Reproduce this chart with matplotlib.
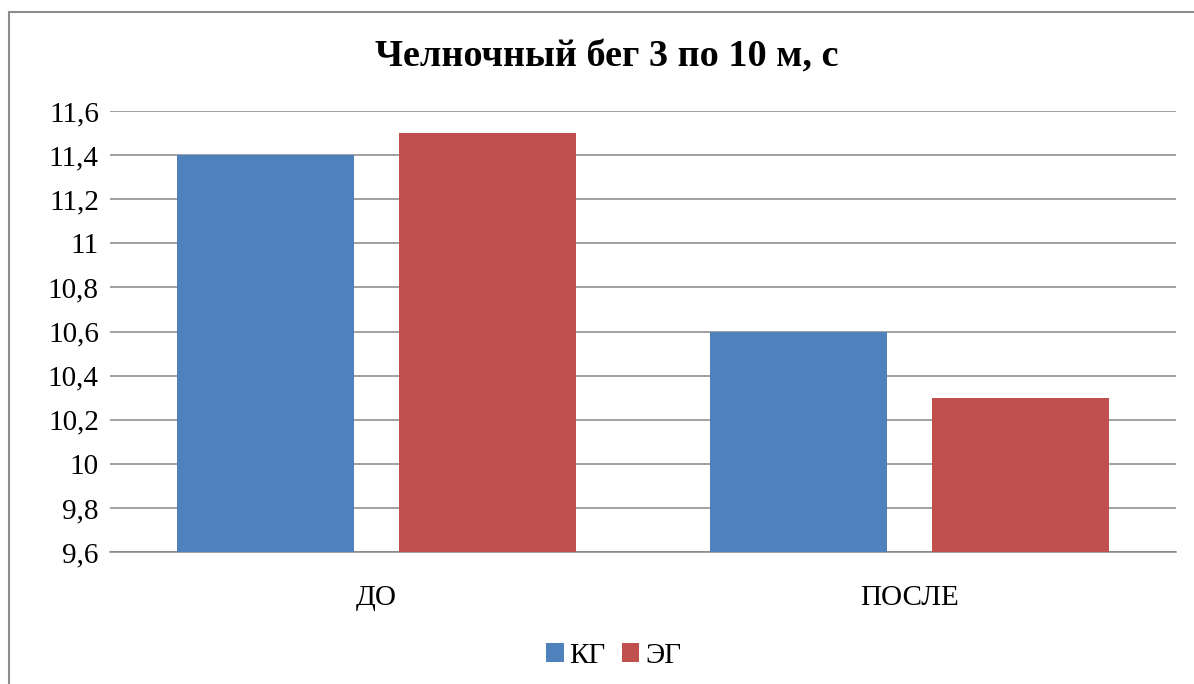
import matplotlib.pyplot as plt
import matplotlib.ticker as mticker
from matplotlib.patches import Rectangle
import numpy as np

plt.rcParams['font.family'] = ['Liberation Serif', 'DejaVu Serif']

categories = ['ДО', 'ПОСЛЕ']
series_names = ['КГ', 'ЭГ']
kg_values = [11.4, 10.6]
eg_values = [11.5, 10.3]
colors = ['#4F81BD', '#C0504D']

fig = plt.figure(figsize=(11.94, 6.84), dpi=100)
ax = fig.add_axes([0.0921, 0.193, 0.985 - 0.0921, 0.8377 - 0.193])

x = np.arange(len(categories))
width = 0.332
offset = 0.208
ax.bar(x - offset, np.array(kg_values) - 9.6, width, bottom=9.6, color=colors[0], label=series_names[0], zorder=3)
ax.bar(x + offset, np.array(eg_values) - 9.6, width, bottom=9.6, color=colors[1], label=series_names[1], zorder=3)

ax.set_xlim(-0.5, 1.5)
ax.set_ylim(9.6, 11.6)
ax.set_yticks(np.arange(9.6, 11.61, 0.2))
ax.yaxis.set_major_formatter(mticker.FuncFormatter(lambda v, p: f'{v:.1f}'.replace('.', ',') if abs(v - round(v)) > 1e-6 else f'{int(round(v))}'))
ax.set_xticks(x)
ax.set_xticklabels(categories)
ax.tick_params(axis='both', length=0, labelsize=21, pad=8)
ax.tick_params(axis='x', pad=24)
ax.grid(axis='y', color='#868686', linewidth=1.1, zorder=0)
for s in ['top', 'right', 'left']:
    ax.spines[s].set_visible(False)
ax.spines['bottom'].set_color('#868686')
ax.spines['bottom'].set_linewidth(1.1)

fig.text(0.508, 1 - 57 / 684, 'Челночный бег 3 по 10 м, с', fontsize=27.5, fontweight='bold',
         ha='center', va='center')

leg = fig.legend(loc='center', bbox_to_anchor=(0.514, 0.041), ncol=2, frameon=False,
                 fontsize=21, handlelength=0.6, handleheight=0.6, handletextpad=0.2, columnspacing=0.55)

fig.patches.append(Rectangle((9 / 1194, -0.05), 1.1, 1 - 12 / 684 + 0.05, transform=fig.transFigure,
                             fill=False, edgecolor='#8c8c8c', linewidth=1.5))

fig.savefig('out.png', dpi=100)
